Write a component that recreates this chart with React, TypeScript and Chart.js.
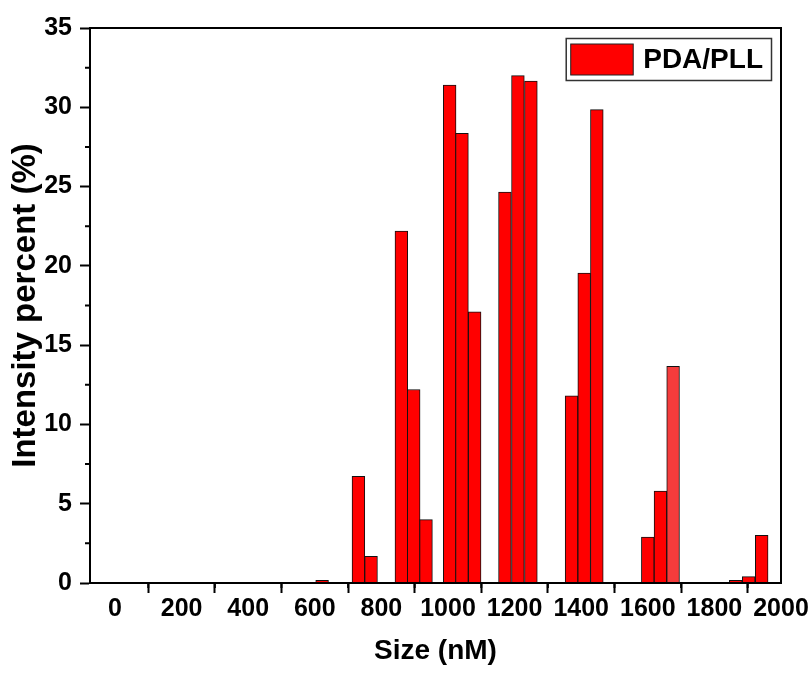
import { useEffect, useRef } from 'react';
import { Chart, registerables } from 'chart.js';

Chart.register(...registerables);

// ---- data ----
const SIZES = [622, 731, 769, 860, 897, 934, 1005, 1042, 1080, 1171, 1210, 1249, 1371, 1409, 1447, 1600, 1638, 1676, 1864, 1903, 1942];
const INTENSITY = [0.17, 6.73, 1.68, 22.2, 12.2, 4.0, 31.4, 28.35, 17.1, 24.65, 32.0, 31.65, 11.8, 19.55, 29.85, 2.9, 5.8, 13.67, 0.17, 0.4, 3.0];
const BIN_WIDTH = 38.3;
const X_TICKS = [0, 200, 400, 600, 800, 1000, 1200, 1400, 1600, 1800, 2000];
const X_MINOR = [100, 300, 500, 700, 900, 1100, 1300, 1500, 1700, 1900];
const Y_TICKS = [0, 5, 10, 15, 20, 25, 30, 35];
const Y_MINOR = [2.5, 7.5, 12.5, 17.5, 22.5, 27.5, 32.5];
const SERIES_LABEL = 'PDA/PLL';
const X_TITLE = 'Size (nM)';
const Y_TITLE = 'Intensity percent (%)';
const LIGHT_BAR_INDEX = 17;

const FONT = "'Liberation Sans', Arial, Helvetica, sans-serif";
const TICK_FONT = "'Liberation Sans Narrow', 'Arial Narrow', 'Liberation Sans', Arial, sans-serif";
const BAR_COLOR = '#ff0000';
const LIGHT_BAR_COLOR = '#f43c3c';

const framePlugin = {
  id: 'frame',
  afterDraw(chart: any) {
    const { ctx, chartArea: a, scales } = chart;
    const x = scales.x;
    const y = scales.y;
    ctx.save();
    ctx.strokeStyle = '#000';
    ctx.lineWidth = 2;
    ctx.strokeRect(a.left, a.top, a.right - a.left, a.bottom - a.top);
    ctx.beginPath();
    X_MINOR.forEach((v) => {
      const p = x.getPixelForValue(v);
      ctx.moveTo(p, a.bottom);
      ctx.lineTo(p, a.bottom + 5);
    });
    Y_MINOR.forEach((v) => {
      const p = y.getPixelForValue(v);
      ctx.moveTo(a.left, p);
      ctx.lineTo(a.left - 5, p);
    });
    ctx.stroke();

    // legend (inside the plot, top-right)
    const label = chart.data.datasets[0].label;
    ctx.font = `bold 28px ${FONT}`;
    const tw = ctx.measureText(label).width;
    const frameRight = a.right - 9.5;
    const textRight = frameRight - 8.5;
    const textX = textRight - tw;
    const swW = 62.5;
    const swX = textX - 10 - swW;
    const frameLeft = swX - 4.5;
    const frameTop = a.top + 10.5;
    const frameH = 42;
    ctx.lineWidth = 1.5;
    ctx.strokeStyle = '#333';
    ctx.strokeRect(frameLeft, frameTop, frameRight - frameLeft, frameH);
    ctx.fillStyle = BAR_COLOR;
    ctx.fillRect(swX, frameTop + 5.5, swW, 31);
    ctx.lineWidth = 1;
    ctx.strokeStyle = '#222';
    ctx.strokeRect(swX, frameTop + 5.5, swW, 31);
    ctx.fillStyle = '#000';
    ctx.textBaseline = 'middle';
    ctx.textAlign = 'left';
    ctx.fillText(label, textX, frameTop + 21.5);
    ctx.restore();
  },
};

export default function App() {
  const ref = useRef<HTMLCanvasElement | null>(null);

  useEffect(() => {
    if (!ref.current) return;
    const chart = new Chart(ref.current, {
      type: 'bar',
      data: {
        datasets: [
          {
            label: SERIES_LABEL,
            data: SIZES.map((s, i) => ({ x: s, y: INTENSITY[i] })),
            backgroundColor: (c: any) => (c.dataIndex === LIGHT_BAR_INDEX ? LIGHT_BAR_COLOR : BAR_COLOR),
            borderColor: '#111',
            borderWidth: 1,
            barThickness: (c: any) => {
              const s = c.chart.scales.x;
              const w = s ? Math.abs(s.getPixelForValue(BIN_WIDTH) - s.getPixelForValue(0)) : 12;
              return isFinite(w) && w > 0 ? w : 12;
            },
          } as any,
        ],
      },
      options: {
        responsive: false,
        animation: false,
        devicePixelRatio: 1,
        layout: { padding: { top: 28, right: 30, left: 0, bottom: 0 } },
        plugins: {
          legend: { display: false },
          tooltip: { enabled: false },
        },
        scales: {
          x: {
            type: 'linear',
            min: -75,
            max: 2000,
            offset: false,
            afterBuildTicks: (s: any) => {
              s.ticks = X_TICKS.map((v) => ({ value: v }));
            },
            afterFit: (s: any) => {
              s.height = 90;
            },
            ticks: {
              color: '#000',
              padding: 1,
              maxRotation: 0,
              autoSkip: false,
              font: { family: TICK_FONT, size: 25, weight: 'bold' },
              callback: (v: any) => String(v),
            },
            grid: { drawOnChartArea: false, tickLength: 10, tickWidth: 2, color: '#000' },
            border: { display: true, color: '#000', width: 2 },
            title: {
              display: true,
              text: X_TITLE,
              color: '#000',
              font: { family: FONT, size: 28, weight: 'bold' },
              padding: { top: 0, bottom: 5 },
            },
          },
          y: {
            type: 'linear',
            min: 0,
            max: 35,
            afterBuildTicks: (s: any) => {
              s.ticks = Y_TICKS.map((v) => ({ value: v }));
            },
            afterFit: (s: any) => {
              s.width = 90;
            },
            ticks: {
              color: '#000',
              padding: 8,
              autoSkip: false,
              font: { family: TICK_FONT, size: 25, weight: 'bold' },
              callback: (v: any) => String(v),
            },
            grid: { drawOnChartArea: false, tickLength: 10, tickWidth: 2, color: '#000' },
            border: { display: true, color: '#000', width: 2 },
            title: {
              display: true,
              text: Y_TITLE,
              color: '#000',
              font: { family: FONT, size: 33, weight: 'bold' },
              padding: { top: 6, bottom: 0 },
            },
          },
        },
      } as any,
      plugins: [framePlugin],
    });
    return () => chart.destroy();
  }, []);

  return (
    <div style={{ position: 'absolute', left: 0, top: 0, width: 811, height: 673, background: '#fff' }}>
      <canvas ref={ref} width={811} height={673} style={{ display: 'block' }} />
    </div>
  );
}
